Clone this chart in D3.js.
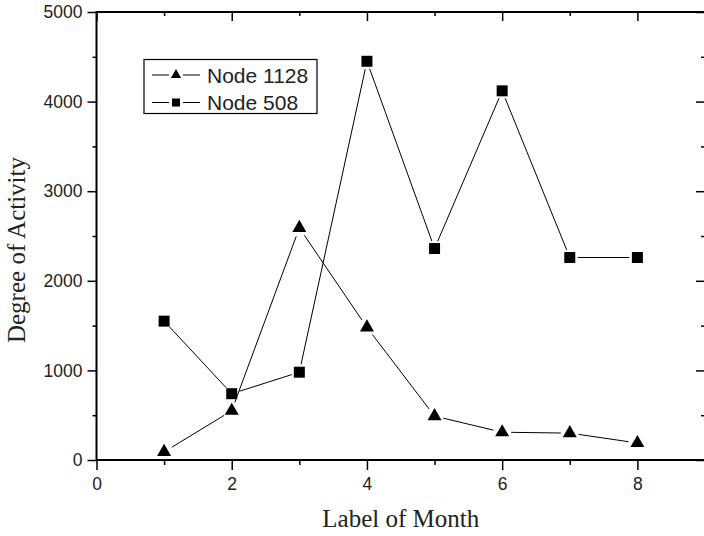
<!DOCTYPE html>
<html>
<head>
<meta charset="utf-8">
<script src="https://cdn.jsdelivr.net/npm/d3@7/dist/d3.min.js"></script>
<style>
body { margin: 0; background: #fff; }
.tick text { font-family: "Liberation Sans", Arial, sans-serif; font-size: 17.5px; fill: #222; }
</style>
</head>
<body>
<script>
var months = [1, 2, 3, 4, 5, 6, 7, 8];
var node1128 = [90, 550, 2590, 1480, 490, 310, 300, 190];
var node508 = [1550, 740, 980, 4450, 2360, 4120, 2260, 2260];
var seriesNames = ["Node 1128", "Node 508"];
var xTicks = [0, 2, 4, 6, 8];
var xMinor = [1, 3, 5, 7];
var yTicks = [0, 1000, 2000, 3000, 4000, 5000];
var yMinor = [500, 1500, 2500, 3500, 4500];

var xScale = d3.scaleLinear().domain([0, 9]).range([96.5, 705]);
var yScale = d3.scaleLinear().domain([0, 5000]).range([460, 12]);

var svg = d3.select("body").append("svg")
    .attr("width", 704)
    .attr("height", 536);

var tickStyle = function(g){
    g.select(".domain").remove();
    g.selectAll(".tick line").attr("stroke", "#000").attr("stroke-width", 1.5);
};

// bottom + left with labels
svg.append("g").attr("transform", "translate(0,460)")
    .call(d3.axisBottom(xScale).tickValues(xTicks).tickSize(10).tickPadding(8).tickFormat(d3.format("d")))
    .call(tickStyle);
svg.append("g").attr("transform", "translate(0,460)")
    .call(d3.axisBottom(xScale).tickValues(xMinor).tickSize(5).tickFormat(""))
    .call(tickStyle);
svg.append("g").attr("transform", "translate(96.5,0)")
    .call(d3.axisLeft(yScale).tickValues(yTicks).tickSize(9).tickPadding(5).tickFormat(d3.format("d")))
    .call(tickStyle);
svg.append("g").attr("transform", "translate(96.5,0)")
    .call(d3.axisLeft(yScale).tickValues(yMinor).tickSize(4).tickFormat(""))
    .call(tickStyle);

// top + right, inward ticks
svg.append("g").attr("transform", "translate(0,12)")
    .call(d3.axisTop(xScale).tickValues(xTicks).tickSize(-9).tickFormat(""))
    .call(tickStyle);
svg.append("g").attr("transform", "translate(0,12)")
    .call(d3.axisTop(xScale).tickValues(xMinor).tickSize(-4).tickFormat(""))
    .call(tickStyle);
svg.append("g").attr("transform", "translate(705,0)")
    .call(d3.axisRight(yScale).tickValues(yTicks).tickSize(-9).tickFormat(""))
    .call(tickStyle);
svg.append("g").attr("transform", "translate(705,0)")
    .call(d3.axisRight(yScale).tickValues(yMinor).tickSize(-4).tickFormat(""))
    .call(tickStyle);

// frame
svg.append("rect")
    .attr("x", xScale(0)).attr("y", yScale(5000))
    .attr("width", xScale(9) - xScale(0)).attr("height", yScale(0) - yScale(5000))
    .attr("fill", "none").attr("stroke", "#000").attr("stroke-width", 2);

// lines with small gaps around the symbols
var drawSeries = function(values, symbolType, size, gap){
    var pts = months.map(function(m, i){ return [xScale(m), yScale(values[i])]; });
    var g = svg.append("g");
    for (var i = 0; i < pts.length - 1; i++) {
        var a = pts[i], b = pts[i + 1];
        var dx = b[0] - a[0], dy = b[1] - a[1];
        var len = Math.sqrt(dx * dx + dy * dy);
        if (len <= gap * 2) continue;
        var ux = dx / len, uy = dy / len;
        g.append("line")
            .attr("x1", a[0] + ux * gap).attr("y1", a[1] + uy * gap)
            .attr("x2", b[0] - ux * gap).attr("y2", b[1] - uy * gap)
            .attr("stroke", "#000").attr("stroke-width", 1);
    }
    g.selectAll("path.sym").data(pts).enter().append("path")
        .attr("class", "sym")
        .attr("transform", function(d){ return "translate(" + d[0] + "," + d[1] + ")"; })
        .attr("d", d3.symbol().type(symbolType).size(size))
        .attr("fill", "#000");
};
drawSeries(node508, d3.symbolSquare, 121, 8);
drawSeries(node1128, d3.symbolTriangle, 85, 9);

// legend
var legend = svg.append("g");
legend.append("rect")
    .attr("x", 144).attr("y", 59.5).attr("width", 173).attr("height", 54)
    .attr("fill", "#fff").attr("stroke", "#000").attr("stroke-width", 1.2);
var legendSymbols = [[d3.symbolTriangle, 45], [d3.symbolSquare, 64]];
seriesNames.forEach(function(name, i){
    var y = 75 + i * 27.5;
    legend.append("line").attr("x1", 152).attr("x2", 169).attr("y1", y).attr("y2", y)
        .attr("stroke", "#000").attr("stroke-width", 1);
    legend.append("line").attr("x1", 183).attr("x2", 200).attr("y1", y).attr("y2", y)
        .attr("stroke", "#000").attr("stroke-width", 1);
    legend.append("path")
        .attr("transform", "translate(176," + y + ")")
        .attr("d", d3.symbol().type(legendSymbols[i][0]).size(legendSymbols[i][1]))
        .attr("fill", "#000");
    legend.append("text")
        .attr("x", 207).attr("y", y).attr("dy", "0.36em")
        .style("font-family", "'Liberation Sans', Arial, sans-serif")
        .style("font-size", "21px").attr("fill", "#222")
        .text(name);
});

// axis titles
svg.append("text")
    .attr("x", (xScale(0) + xScale(9)) / 2).attr("y", 527)
    .attr("text-anchor", "middle")
    .style("font-family", "'Liberation Serif', 'Times New Roman', serif")
    .style("font-size", "25px").attr("fill", "#222")
    .text("Label of Month");
svg.append("text")
    .attr("transform", "translate(25,250) rotate(-90)")
    .attr("text-anchor", "middle")
    .style("font-family", "'Liberation Serif', 'Times New Roman', serif")
    .style("font-size", "25px").attr("fill", "#222")
    .text("Degree of Activity");
</script>
</body>
</html>
